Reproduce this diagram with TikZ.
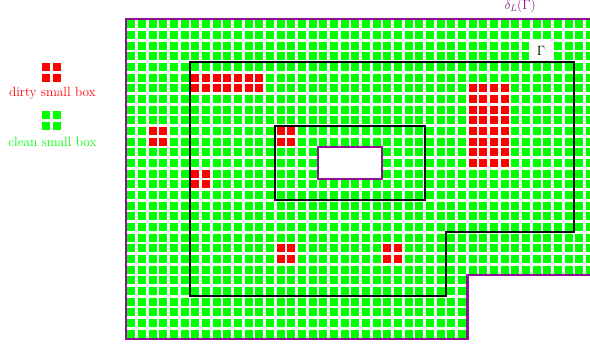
\documentclass[tikz,border=0pt]{standalone}
\definecolor{boxgreen}{RGB}{0,255,0}
\definecolor{boxred}{RGB}{255,0,0}
\definecolor{myviolet}{RGB}{145,15,145}
\tikzset{
  cleanbox/.style={fill=boxgreen},
  dirtybox/.style={fill=boxred},
  gammaline/.style={draw=black,line width=2.2pt},
  domainline/.style={draw=myviolet,line width=2.8pt},
  lbl/.style={font=\fontsize{14.2}{17}\selectfont,inner sep=1pt},
}
\begin{document}
\begin{tikzpicture}[x=0.4cm,y=0.4cm]
\clip (-11.8125,-0.5625) rectangle (43.5,31.78);
% clean small boxes
\foreach \i in {0,...,43}{
  \foreach \j in {0,...,29}{
    \pgfmathtruncatemacro{\skipit}{(((\i>31)&&(\j<6))||((\i>17)&&(\i<24)&&(\j>14)&&(\j<18))) ? 1 : 0}
    \ifnum\skipit=0
      \fill[cleanbox] (\i+0.125,\j+0.125) rectangle ++(0.75,0.75);
    \fi
  }
}
% dirty small boxes
\foreach \a/\b/\c/\d in {6/12/23/24, 32/35/16/23, 2/3/18/19, 6/7/14/15, 14/15/18/19, 14/15/7/8, 24/25/7/8}{
  \foreach \i in {\a,...,\b}{
    \foreach \j in {\c,...,\d}{
      \fill[dirtybox] (\i+0.125,\j+0.125) rectangle ++(0.75,0.75);
    }
  }
}
% label of Gamma (white background)
\node[lbl,fill=white,minimum width=0.9cm,minimum height=0.8cm] (gam) at (38.9,27.05) {$\Gamma$};
% domain boundary
\draw[domainline] (0,0) -- (0,30) -- (44,30) -- (44,6) -- (32,6) -- (32,0) -- cycle;
\draw[domainline] (18,15) rectangle (24,18);
% Gamma
\draw[gammaline] (6,26) -- (42,26) -- (42,10) -- (30,10) -- (30,4) -- (6,4) -- cycle;
\draw[gammaline] (14,13) rectangle (28,20);
\node[lbl,text=myviolet] (delta) at (36.95,31.2) {$\delta_L(\Gamma)$};
% legend
\foreach \i in {-8,-7}{
  \foreach \j in {24,25}{
    \fill[dirtybox] (\i+0.125,\j+0.125) rectangle ++(0.75,0.75);
  }
  \foreach \j in {19.5,20.5}{
    \fill[cleanbox] (\i+0.125,\j+0.125) rectangle ++(0.75,0.75);
  }
}
\node[lbl,text=boxred] (dirty) at (-6.9,23.05) {dirty small box};
\node[lbl,text=boxgreen] (clean) at (-6.9,18.5) {clean small box};
\end{tikzpicture}
\end{document}
